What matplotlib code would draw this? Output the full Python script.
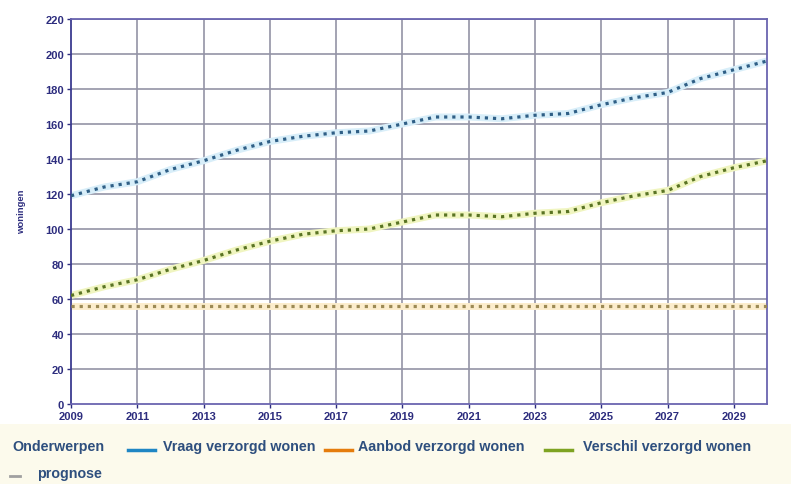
import matplotlib
matplotlib.use("Agg")
import matplotlib.pyplot as plt
from matplotlib.lines import Line2D
from matplotlib.patches import Rectangle

# Jaren en reeksen (aantal woningen)
years = list(range(2009, 2031))
vraag = [119, 124, 127, 134, 139, 145, 150, 153, 155, 156, 160, 164,
         164, 163, 165, 166, 171, 175, 178, 186, 191, 196]
aanbod = [56] * len(years)
verschil = [62, 67, 71, 77, 82, 88, 93, 97, 99, 100, 104, 108,
            108, 107, 109, 110, 115, 119, 122, 130, 135, 139]

x_ticks = list(range(2009, 2030, 2))
y_ticks = list(range(0, 221, 20))

legend_title = "Onderwerpen"
legend_labels = ["Vraag verzorgd wonen", "Aanbod verzorgd wonen", "Verschil verzorgd wonen"]
legend_extra = "prognose"
y_label = "woningen"

W, H = 791, 485
fig = plt.figure(figsize=(W / 100, H / 100), dpi=100)
fig.patch.set_facecolor("white")

# cream legend band at the bottom
fig.add_artist(Rectangle((0, 0), 1, 60 / H, transform=fig.transFigure,
                         facecolor="#fcfaec", edgecolor="none", zorder=0))

ax = fig.add_axes([71 / W, 1 - 405 / H, (767 - 71) / W, (405 - 20) / H])
ax.set_facecolor("white")
ax.set_xlim(2009, 2030)
ax.set_ylim(0, 220)

grid_c = "#9494a6"
for xv in x_ticks[1:]:
    ax.axvline(xv, color=grid_c, lw=1.2, zorder=1)
for yv in y_ticks[1:]:
    ax.axhline(yv, color=grid_c, lw=1.2, zorder=1)

series = [
    (vraag, "#d8eef9", "#2f5f86"),
    (aanbod, "#fcedcc", "#9c8a55"),
    (verschil, "#f0f5c0", "#5a7424"),
]
for vals, halo, dots in series:
    ax.plot(years, vals, color=halo, lw=5, solid_capstyle="butt", zorder=2)
    ax.plot(years, vals, color=dots, lw=2.3, linestyle=(0, (1, 1.55)), zorder=3)

spine_c = "#6a64b0"
for s in ax.spines.values():
    s.set_color(spine_c)
    s.set_linewidth(1.3)
ax.spines["left"].set_color("#3c3c90")

ax.set_xticks(x_ticks)
ax.set_yticks(y_ticks)
tick_c = "#2d2d7e"
ax.tick_params(axis="both", colors=tick_c, length=3, width=1, labelsize=8)
ax.tick_params(axis="x", pad=2)
ax.tick_params(axis="y", pad=2)
for lab in ax.get_xticklabels() + ax.get_yticklabels():
    lab.set_fontweight("bold")
    lab.set_color(tick_c)
    lab.set_family("Liberation Sans")

fig.text(22 / W, 1 - 212 / H, y_label, rotation=90, ha="center", va="center",
         fontsize=6.8, color=tick_c, family="Liberation Sans", fontweight="bold")

# legend
txt_c = "#2e4f7e"
fs = 10.3
row1 = 1 - 447 / H
row2 = 1 - 474 / H
fig.text(12 / W, row1, legend_title, ha="left", va="center", fontsize=fs,
         color=txt_c, family="Liberation Sans", fontweight="bold")
legend_items = [
    (128, 163, "#1f86c4", legend_labels[0]),
    (325, 358, "#e57c0c", legend_labels[1]),
    (545, 583, "#7ea322", legend_labels[2]),
]
for x0, xt, col, lab in legend_items:
    fig.add_artist(Line2D([x0 / W, (x0 + 27) / W], [row1 - 4 / H, row1 - 4 / H],
                          transform=fig.transFigure, color=col, lw=2.5))
    fig.text(xt / W, row1, lab, ha="left", va="center", fontsize=fs,
             color=txt_c, family="Liberation Sans", fontweight="bold")
fig.add_artist(Line2D([10 / W, 20 / W], [row2 - 3 / H, row2 - 3 / H],
                      transform=fig.transFigure, color="#a0a0a0", lw=2))
fig.text(37 / W, row2, legend_extra, ha="left", va="center", fontsize=fs,
         color=txt_c, family="Liberation Sans", fontweight="bold")

fig.savefig("out.png", dpi=100, facecolor=fig.get_facecolor())
